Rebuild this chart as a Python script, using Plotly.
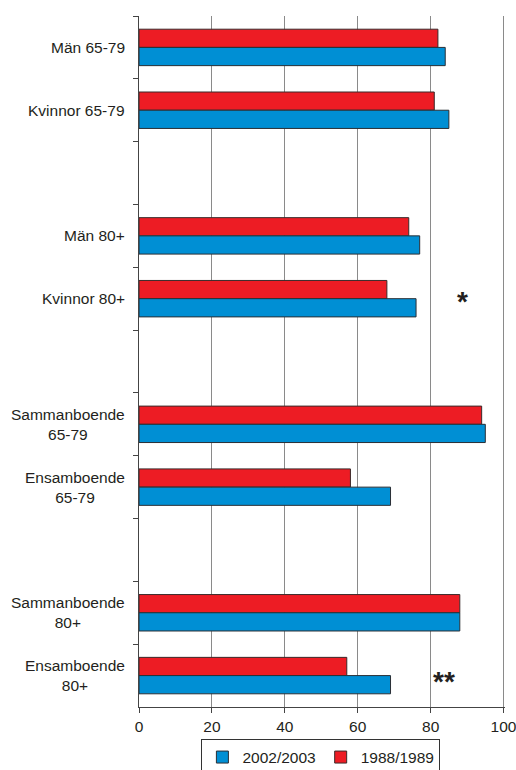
import plotly.graph_objects as go

# Categories (blank entries are empty spacer slots between groups)
categories = [
    "Män 65-79", "Kvinnor 65-79", " ",
    "Män 80+", "Kvinnor 80+", "  ",
    "Sammanboende<br>65-79", "Ensamboende<br>65-79", "   ",
    "Sammanboende<br>80+", "Ensamboende<br>80+",
]
values_2002 = [84, 85, None, 77, 76, None, 95, 69, None, 88, 69]
values_1988 = [82, 81, None, 74, 68, None, 94, 58, None, 88, 57]
x_ticks = [0, 20, 40, 60, 80, 100]
series_names = ["2002/2003", "1988/1989"]
significance = [("Kvinnor 80+", "*"), ("Ensamboende<br>80+", "**")]

RED = "#ED1C24"
BLUE = "#008FD4"
TEXT = "#231F20"
FONT = "Liberation Sans, Arial, sans-serif"

fig = go.Figure()
# red first -> drawn on top within group (reversed axis)
fig.add_trace(go.Bar(
    y=categories, x=values_1988, orientation="h", name=series_names[1],
    marker=dict(color=RED, line=dict(color="#3a2a2a", width=1)),
    legendrank=2,
))
fig.add_trace(go.Bar(
    y=categories, x=values_2002, orientation="h", name=series_names[0],
    marker=dict(color=BLUE, line=dict(color="#2a2f35", width=1)),
    legendrank=1,
))

annotations = []
for c in categories:
    if c.strip():
        annotations.append(dict(
            x=0, xref="paper", y=c, yref="y", text=c, showarrow=False,
            xanchor="right", xshift=-12, align="center",
            font=dict(family=FONT, size=15.5, color=TEXT),
        ))

star_pos = {"*": (88.7, -3), "**": (83.7, -6)}
for cat, s in significance:
    sx, sy = star_pos[s]
    annotations.append(dict(
        x=sx, xref="x", y=cat, yref="y", text="<b>" + s + "</b>", showarrow=False,
        xanchor="center", yshift=sy,
        font=dict(family=FONT, size=28, color=TEXT),
    ))

fig.update_layout(
    width=516, height=770, autosize=False,
    margin=dict(l=139, r=11, t=16, b=63, autoexpand=False),
    paper_bgcolor="white", plot_bgcolor="white",
    barmode="group", bargap=0.42, bargroupgap=0,
    font=dict(family=FONT, size=15.5, color=TEXT),
    showlegend=True,
    legend=dict(
        orientation="h", x=0.497, xanchor="center", y=-0.047, yanchor="top",
        bordercolor="#333333", borderwidth=1, bgcolor="white",
        font=dict(family=FONT, size=15.5, color=TEXT),
        itemwidth=30, tracegroupgap=0,
    ),
    annotations=annotations,
)
fig.update_xaxes(
    range=[0, 100.4], tickvals=x_ticks, ticktext=[str(v) for v in x_ticks],
    showgrid=True, gridcolor="#8a8a8a", gridwidth=1,
    showline=True, linecolor="#444444", linewidth=1,
    ticks="outside", ticklen=5, tickcolor="#444444",
    tickfont=dict(family=FONT, size=15.5, color=TEXT),
    ticklabeloverflow="allow",
    zeroline=False, fixedrange=True,
)
fig.update_yaxes(
    type="category", categoryorder="array", categoryarray=categories,
    autorange="reversed", showticklabels=False,
    showline=True, linecolor="#444444", linewidth=1,
    ticks="outside", ticklen=5, tickcolor="#444444", tickson="boundaries",
    showgrid=False, zeroline=False, fixedrange=True,
)

fig.write_html("out.html")
